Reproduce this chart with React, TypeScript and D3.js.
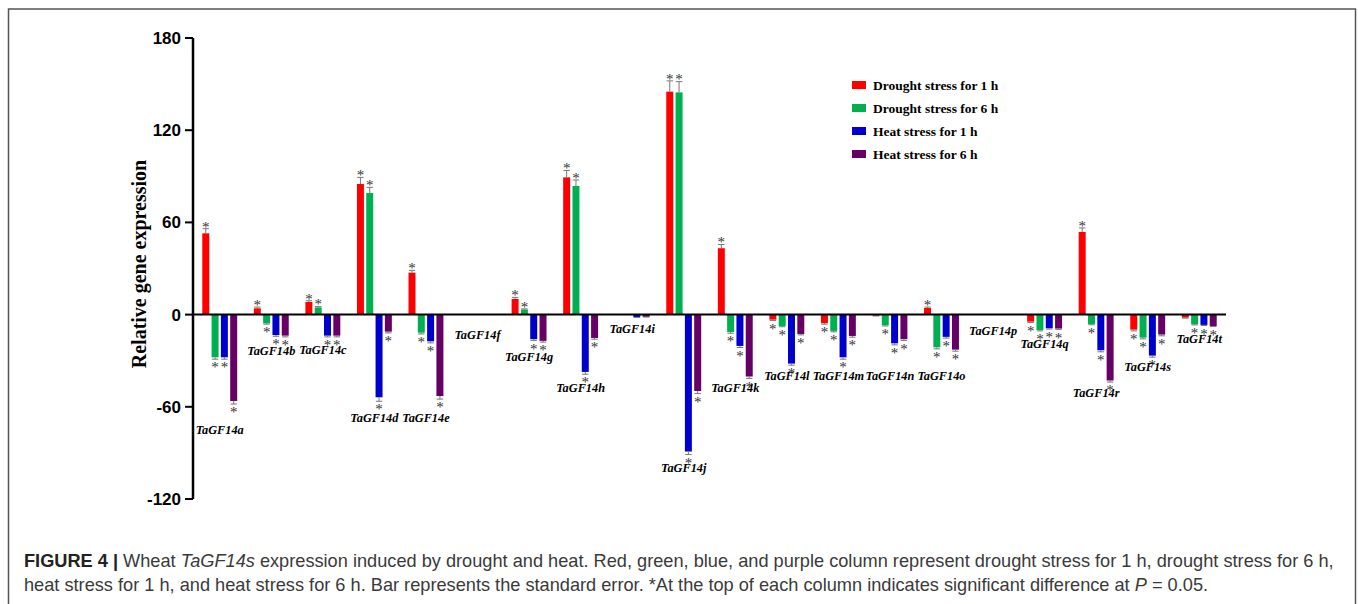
import React from 'react';
import * as d3 from 'd3';

const genes = ['TaGF14a','TaGF14b','TaGF14c','TaGF14d','TaGF14e','TaGF14f','TaGF14g','TaGF14h','TaGF14i','TaGF14j','TaGF14k','TaGF14l','TaGF14m','TaGF14n','TaGF14o','TaGF14p','TaGF14q','TaGF14r','TaGF14s','TaGF14t'];
const seriesNames = ['Drought stress for 1 h','Drought stress for 6 h','Heat stress for 1 h','Heat stress for 6 h'];
const seriesColors = ['#ff0000','#00b050','#0000cc','#660066'];

const drought1h = [52.9, 4.1, 8.2, 85, 27.3, 0, 10.2, 89.3, 0, 145.1, 43.2, -3.3, -5.6, -0.7, 4.3, 0, -4.6, 53.8, -9.8, -2];
const drought6h = [-27.8, -5.7, 4.7, 79.1, -11.8, 0, 3.3, 83.7, 0, 144.6, -11.3, -7.4, -10.6, -6.9, -21.3, 0, -10, -6.1, -15, -6.3];
const heat1h = [-27.8, -13.3, -13.7, -53.8, -17.4, 0, -16, -37.3, -1.7, -89.1, -20.4, -31.9, -27.8, -18.7, -14.5, 0, -8.9, -23.2, -26.7, -6.7];
const heat6h = [-56.2, -13.7, -13.7, -11.1, -53, 0, -17.1, -15.2, -1.5, -49.7, -40.3, -12.6, -13.9, -16, -22.8, 0, -9.1, -42.9, -13, -7.4];

const errDrought1h = [3, 0.8, 0.8, 4.3, 1.5, 0, 1, 4.5, 0, 7, 2.4, 0.5, 0.6, 0.2, 0.6, 0, 0.5, 2.6, 0.8, 0.3];
const errDrought6h = [1.2, 0.5, 0.5, 3.7, 0.8, 0, 0.4, 3.9, 0, 7, 0.8, 0.5, 0.6, 0.5, 1, 0, 0.6, 0.5, 0.8, 0.4];
const errHeat1h = [1.2, 0.8, 0.8, 2.6, 1, 0, 0.8, 1.5, 0.1, 2, 1, 1, 1.2, 1, 0.8, 0, 0.5, 1, 1, 0.4];
const errHeat6h = [2, 0.8, 0.8, 0.8, 2, 0, 0.8, 0.8, 0.1, 1.7, 1.2, 0.6, 0.8, 0.8, 1, 0, 0.5, 1, 0.8, 0.4];

const sigDrought1h = [1,1,1,1,1,0,1,1,0,1,1,1,1,0,1,0,1,1,1,0];
const sigDrought6h = [1,1,1,1,1,0,1,1,0,1,1,1,1,1,1,0,1,1,1,1];
const sigHeat1h = [1,1,1,1,1,0,1,1,0,1,1,1,1,1,1,0,1,1,1,1];
const sigHeat6h = [1,1,1,1,1,0,1,1,0,1,1,1,1,1,1,0,1,1,1,1];

// value (on the y axis) at which each gene label sits
const geneLabelLevel = [-75.1, -23.5, -23.0, -67.3, -67.3, -13.3, -27.4, -47.8, -9.4, -99.8, -47.8, -40, -40, -40, -40, -10.7, -19.1, -51, -33.9, -15.9];

const yTicks = [180, 120, 60, 0, -60, -120];

const values = [drought1h, drought6h, heat1h, heat6h];
const errors = [errDrought1h, errDrought6h, errHeat1h, errHeat6h];
const sigs = [sigDrought1h, sigDrought6h, sigHeat1h, sigHeat6h];

export default function App() {
  const W = 1358, H = 604;
  const axisX = 193;
  const x0 = d3.scaleBand<string>().domain(genes).range([axisX, 1226]).paddingInner(0.323).paddingOuter(0.18);
  const x1 = d3.scaleBand<number>().domain([0, 1, 2, 3]).range([0, x0.bandwidth()]).paddingInner(0.25).paddingOuter(0);
  const y = d3.scaleLinear().domain([-120, 180]).range([499, 38]);
  const serif = "'Liberation Serif', 'Times New Roman', serif";
  const sans = "'Liberation Sans', Arial, Helvetica, sans-serif";

  const bars: React.ReactNode[] = [];
  const errs: React.ReactNode[] = [];
  const stars: React.ReactNode[] = [];
  genes.forEach((g, i) => {
    values.forEach((arr, s) => {
      const v = arr[i];
      const e = errors[s][i];
      const bx = (x0(g) as number) + (x1(s) as number);
      const bw = x1.bandwidth();
      const cx = bx + bw / 2;
      if (v !== 0) {
        bars.push(<rect key={`b${i}-${s}`} x={bx} y={Math.min(y(v), y(0))} width={bw} height={Math.abs(y(v) - y(0))} fill={seriesColors[s]} />);
      }
      const end = v >= 0 ? v + e : v - e;
      if (e > 0) {
        errs.push(
          <g key={`e${i}-${s}`} stroke="#777" strokeWidth={1}>
            <line x1={cx} x2={cx} y1={y(v)} y2={y(end)} />
            <line x1={cx - 3.2} x2={cx + 3.2} y1={y(end)} y2={y(end)} />
          </g>
        );
      }
      if (sigs[s][i]) {
        const sy = v >= 0 ? y(end) + 2.8 : y(end) + 13.2;
        stars.push(<text key={`s${i}-${s}`} x={cx} y={sy} textAnchor="middle" fontFamily={serif} fontSize={15} fill="#333">*</text>);
      }
    });
  });

  return (
    <svg width={W} height={H} style={{ position: 'absolute', left: 0, top: 0, background: '#fff' }}>
      <rect x={8.5} y={9} width={1347} height={700} fill="none" stroke="#555" strokeWidth={1.5} />
      {/* y axis */}
      <line x1={axisX} x2={axisX} y1={y(180)} y2={y(-120)} stroke="#000" strokeWidth={2.5} />
      {yTicks.map(t => (
        <g key={t}>
          <line x1={axisX - 8} x2={axisX} y1={y(t)} y2={y(t)} stroke="#000" strokeWidth={2} />
          <text x={181} y={y(t) + 6} textAnchor="end" fontFamily={sans} fontWeight={700} fontSize={17} fill="#000">{t}</text>
        </g>
      ))}
      <text transform={`translate(146, 264) rotate(-90)`} textAnchor="middle" fontFamily={serif} fontWeight={700} fontSize={20} fill="#000">Relative gene expression</text>
      {bars}
      {errs}
      <line x1={axisX} x2={1226} y1={y(0)} y2={y(0)} stroke="#000" strokeWidth={2} />
      {stars}
      {genes.map((g, i) => (
        <text key={g} x={(x0(g) as number) + x0.bandwidth() / 2} y={y(geneLabelLevel[i])} dy="0.35em" textAnchor="middle" fontFamily={serif} fontStyle="italic" fontWeight={700} fontSize={12.3} fill="#000">{g}</text>
      ))}
      {/* legend */}
      {seriesNames.map((n, s) => (
        <g key={n}>
          <rect x={852} y={90 + s * 23 - 9} width={14} height={8} fill={seriesColors[s]} />
          <text x={873} y={90 + s * 23} fontFamily={serif} fontWeight={700} fontSize={13.5} fill="#000">{n}</text>
        </g>
      ))}
      {/* caption */}
      <text x={24} y={567} fontFamily={sans} fontSize={18.2} fill="#3a3a3a">
        <tspan fontWeight={700} fill="#222">FIGURE 4 |</tspan>
        <tspan> Wheat </tspan>
        <tspan fontStyle="italic">TaGF14s</tspan>
        <tspan> expression induced by drought and heat. Red, green, blue, and purple column represent drought stress for 1 h, drought stress for 6 h,</tspan>
      </text>
      <text x={24} y={591} fontFamily={sans} fontSize={18.2} fill="#3a3a3a">
        <tspan>heat stress for 1 h, and heat stress for 6 h. Bar represents the standard error. *At the top of each column indicates significant difference at </tspan>
        <tspan fontStyle="italic">P</tspan>
        <tspan> = 0.05.</tspan>
      </text>
    </svg>
  );
}
